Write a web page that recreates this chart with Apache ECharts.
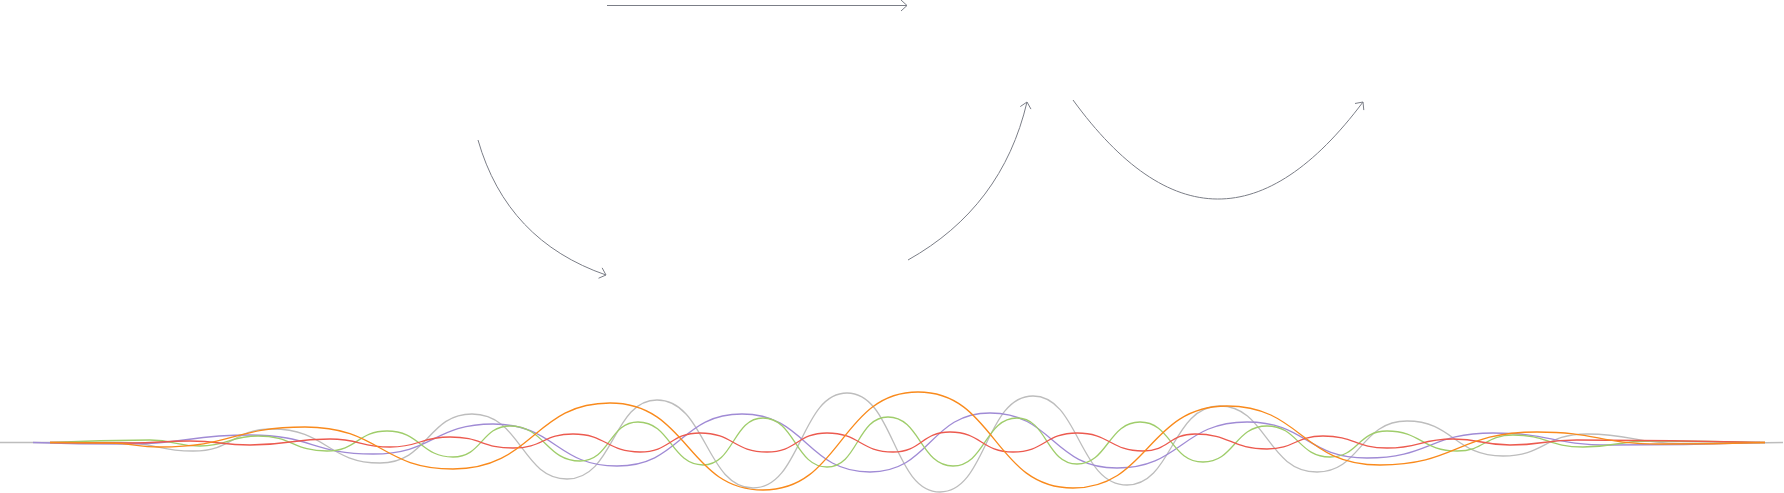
<!DOCTYPE html>
<html>
<head>
<meta charset="utf-8">
<script src="https://cdn.jsdelivr.net/npm/echarts@6/dist/echarts.min.js"></script>
<style>
    html, body { margin: 0; padding: 0; background: #fff; }
    #main { width: 1784px; height: 493px; }
</style>
</head>
<body>
<div id="main"></div>
<script>
// wave readings: [position, value] (value 0 = resting line)
var grayWave = [[0, 0], [120, 0], [193, -8.5], [272, 13.5], [380, -20.5], [472, 28.5], [567, -36.5], [657, 42.5],
    [753, -45.5], [847, 49.5], [940, -49.5], [1033, 46.5], [1127, -42.5], [1220, 36.5], [1317, -29.5],
    [1407, 21.5], [1503, -13.5], [1587, 8.5], [1680, -1], [1783, 0]];
var orangeWave = [[50, 0], [110, -0.5], [160, -4.5], [305, 15.5], [453, -26.5], [610, 39.5], [763, -47.5],
    [918, 50.5], [1073, -45.5], [1227, 36.5], [1380, -22.5], [1537, 10.5], [1660, -1.5], [1765, 0]];
var purpleWave = [[33, 0], [125, -1.5], [250, 7.5], [373, -11.5], [493, 18.5], [617, -23.5], [742, 28.5],
    [870, -29.5], [990, 29.5], [1117, -25.5], [1247, 20.5], [1367, -15.5], [1493, 9.5], [1610, -2.5], [1760, 0]];
var greenWave = [[50, 0], [150, 2.5], [200, -3.5], [258, 6.5], [327, -8.5], [387, 11.5], [453, -14.5],
    [510, 16.5], [580, -18.5], [638, 20.5], [703, -22.5], [763, 24.5], [827, -24.5], [888, 25.5],
    [953, -23.5], [1017, 24.5], [1077, -21.5], [1140, 20.5], [1203, -19.5], [1267, 16.5], [1330, -14.5],
    [1387, 11.5], [1457, -8.5], [1513, 7.5], [1583, -4.5], [1650, 1.5], [1765, 0]];
var redWave = [[50, 0], [130, -0.5], [190, 1.5], [250, -2.5], [330, 3.5], [390, -4.5], [450, 5.5],
    [513, -5.5], [573, 8.5], [640, -9.5], [700, 9.5], [767, -9.5], [827, 9.5], [893, -9.5], [950, 10.5],
    [1013, -9.5], [1077, 9.5], [1143, -8.5], [1195, 8.5], [1267, -6.5], [1323, 6.5], [1387, -5.5],
    [1453, 3.5], [1510, -2.5], [1577, 2.5], [1765, 0]];

// arrows: from, to, bend (same meaning as edge curveness)
var arrowFrom = [[607, 437], [478, 302.5], [908, 182.5], [1073, 342.5]];
var arrowTo = [[907, 437], [606, 167.5], [1027, 340.5], [1363, 340.5]];
var arrowBend = [0, -0.26, -0.22, -0.676];

var waveNames = ['gray', 'purple', 'green', 'red', 'orange'];
var waveData = [grayWave, purpleWave, greenWave, redWave, orangeWave];
var waveColors = ['#bdbdbd', '#a08bd5', '#9fcd6b', '#ec5a4f', '#f98a1c'];

var chart = echarts.init(document.getElementById('main'));

var series = [];
for (var i = 0; i < waveData.length; i++) {
    series.push({
        name: waveNames[i],
        type: 'line',
        data: waveData[i],
        smooth: 0.5,
        showSymbol: false,
        symbol: 'none',
        clip: false,
        lineStyle: { color: waveColors[i], width: 1.3 }
    });
}

var arrowRows = [];
for (var j = 0; j < arrowFrom.length; j++) {
    arrowRows.push([arrowFrom[j][0], arrowFrom[j][1], arrowTo[j][0], arrowTo[j][1], arrowBend[j]]);
}

function renderArrow(params, api) {
    var p1 = api.coord([api.value(0), api.value(1)]);
    var p2 = api.coord([api.value(2), api.value(3)]);
    var c = api.value(4);
    // quadratic control point, then raised to cubic
    var cp = [(p1[0] + p2[0]) / 2 - (p1[1] - p2[1]) * c, (p1[1] + p2[1]) / 2 - (p2[0] - p1[0]) * c];
    var c1 = [p1[0] + (cp[0] - p1[0]) * 2 / 3, p1[1] + (cp[1] - p1[1]) * 2 / 3];
    var c2 = [p2[0] + (cp[0] - p2[0]) * 2 / 3, p2[1] + (cp[1] - p2[1]) * 2 / 3];
    var dx = p2[0] - cp[0], dy = p2[1] - cp[1];
    var len = Math.sqrt(dx * dx + dy * dy) || 1;
    var ux = dx / len, uy = dy / len;
    var back = 6, half = 5.5;
    var headA = [p2[0] - ux * back - uy * half, p2[1] - uy * back + ux * half];
    var headB = [p2[0] - ux * back + uy * half, p2[1] - uy * back - ux * half];
    var stroke = { stroke: '#7b7e87', lineWidth: 1, fill: null };
    return {
        type: 'group',
        children: [
            {
                type: 'bezierCurve',
                shape: { x1: p1[0], y1: p1[1], x2: p2[0], y2: p2[1], cpx1: c1[0], cpy1: c1[1], cpx2: c2[0], cpy2: c2[1] },
                style: stroke
            },
            {
                type: 'polyline',
                shape: { points: [headA, p2, headB] },
                style: stroke
            }
        ]
    };
}

series.push({
    type: 'custom',
    coordinateSystem: 'cartesian2d',
    renderItem: renderArrow,
    encode: { x: [0, 2], y: [1, 3] },
    clip: false,
    data: arrowRows
});

chart.setOption({
    animation: false,
    grid: { left: 0, right: 0, top: 0, bottom: 0 },
    xAxis: { type: 'value', min: 0, max: 1784, show: false },
    yAxis: { type: 'value', min: -50.5, max: 442.5, show: false },
    series: series
});
</script>
</body>
</html>
